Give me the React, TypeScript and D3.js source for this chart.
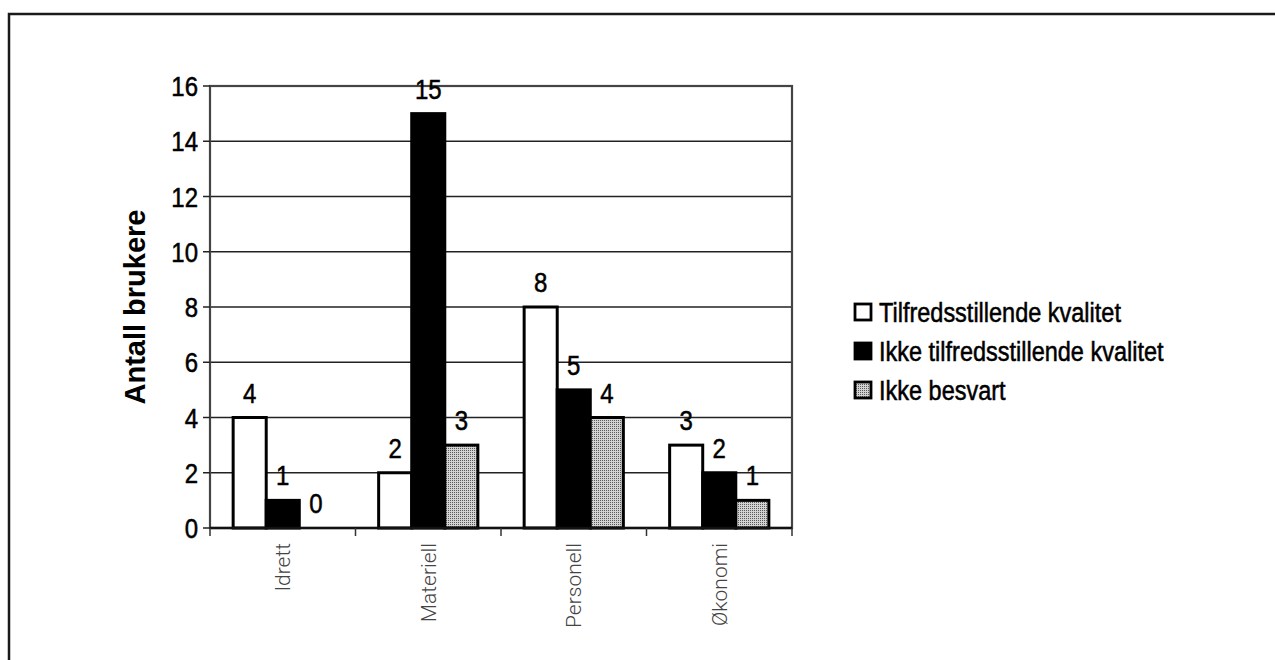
import React, { useEffect, useMemo } from "react";
import { scaleBand, scaleLinear } from "d3";

const categories = ["Idrett", "Materiell", "Personell", "Økonomi"];
const seriesNames = [
  "Tilfredsstillende kvalitet",
  "Ikke tilfredsstillende kvalitet",
  "Ikke besvart",
];
const tilfredsValues = [4, 2, 8, 3];
const ikkeTilfredsValues = [1, 15, 5, 2];
const ikkeBesvartValues = [0, 3, 4, 1];
const yTickValues = [0, 2, 4, 6, 8, 10, 12, 14, 16];

const WIDTH = 1275;
const HEIGHT = 660;
const PLOT = { left: 210, right: 792, top: 86, bottom: 528 };
const FONT = "'Liberation Sans', Arial, Helvetica, sans-serif";

const fills = ["#ffffff", "#000000", "url(#grayDots)"];

// the scanned original is a bit stretched vertically and inked heavier,
// so text gets a y-scale and a hairline stroke
function TallText({
  x,
  y,
  sy,
  anchor = "start",
  size,
  children,
}: {
  x: number;
  y: number;
  sy: number;
  anchor?: "start" | "middle" | "end";
  size: number;
  children: React.ReactNode;
}) {
  return (
    <text
      transform={`translate(${x},${y}) scale(1,${sy})`}
      textAnchor={anchor}
      fontFamily={FONT}
      fontSize={size}
      fill="#000"
      stroke="#000"
      strokeWidth={0.45}
    >
      {children}
    </text>
  );
}

export default function App() {
  useEffect(() => {
    document.body.style.margin = "0";
  }, []);

  const series = [tilfredsValues, ikkeTilfredsValues, ikkeBesvartValues];

  const { xScale, xInner, yScale } = useMemo(() => {
    const xScale = scaleBand<string>()
      .domain(categories)
      .range([PLOT.left, PLOT.right])
      .paddingInner(0)
      .paddingOuter(0);
    const xInner = scaleBand<string>()
      .domain(seriesNames)
      .range([0, xScale.bandwidth()])
      .paddingInner(0)
      .paddingOuter(0.7);
    const yScale = scaleLinear().domain([0, 16]).range([PLOT.bottom, PLOT.top]);
    return { xScale, xInner, yScale };
  }, []);

  // category boundaries for the x tick marks
  const xBoundaries = [
    ...categories.map((c) => xScale(c) as number),
    PLOT.right,
  ];

  return (
    <svg width={WIDTH} height={HEIGHT} style={{ display: "block", background: "#fff" }}>
      <defs>
        <pattern id="grayDots" width={2} height={2} patternUnits="userSpaceOnUse">
          <rect width={2} height={2} fill="#d2d2d2" />
          <rect width={1} height={1} fill="#5a5a5a" />
        </pattern>
      </defs>

      {/* outer frame, right and bottom run off the page */}
      <path d={`M9,${HEIGHT + 10} V14 H${WIDTH + 10}`} fill="none" stroke="#1a1a1a" strokeWidth={2.5} />

      {/* gridlines */}
      {yTickValues
        .filter((v) => v > 0 && v < 16)
        .map((v) => (
          <line
            key={`g${v}`}
            x1={PLOT.left}
            x2={PLOT.right}
            y1={yScale(v)}
            y2={yScale(v)}
            stroke="#222"
            strokeWidth={1.3}
          />
        ))}

      {/* plot area border */}
      <rect
        x={PLOT.left}
        y={PLOT.top}
        width={PLOT.right - PLOT.left}
        height={PLOT.bottom - PLOT.top}
        fill="none"
        stroke="#444"
        strokeWidth={2.2}
      />

      {/* bars */}
      {series.map((vals, si) =>
        vals.map((v, ci) => {
          const x = (xScale(categories[ci]) as number) + (xInner(seriesNames[si]) as number);
          const y = yScale(v);
          if (v === 0) return null;
          return (
            <rect
              key={`b${si}-${ci}`}
              x={x}
              y={y}
              width={xInner.bandwidth()}
              height={yScale(0) - y}
              fill={fills[si]}
              stroke="#000"
              strokeWidth={3}
            />
          );
        })
      )}

      {/* value labels */}
      {series.map((vals, si) =>
        vals.map((v, ci) => {
          const x =
            (xScale(categories[ci]) as number) +
            (xInner(seriesNames[si]) as number) +
            xInner.bandwidth() / 2;
          return (
            <TallText key={`l${si}-${ci}`} x={x} y={yScale(v) - 15} sy={1.17} anchor="middle" size={24}>
              {v}
            </TallText>
          );
        })
      )}

      {/* x axis line and ticks */}
      <line x1={PLOT.left} x2={PLOT.right} y1={PLOT.bottom} y2={PLOT.bottom} stroke="#111" strokeWidth={2.6} />
      {xBoundaries.map((bx, i) => (
        <line key={`xt${i}`} x1={bx} x2={bx} y1={PLOT.bottom} y2={PLOT.bottom + 8} stroke="#333" strokeWidth={1.5} />
      ))}

      {/* y axis ticks and labels */}
      {yTickValues.map((v) => (
        <g key={`yt${v}`}>
          <line x1={PLOT.left - 7} x2={PLOT.left} y1={yScale(v)} y2={yScale(v)} stroke="#222" strokeWidth={1.5} />
          <TallText x={PLOT.left - 12} y={yScale(v) + 10} sy={1.12} anchor="end" size={24}>
            {v}
          </TallText>
        </g>
      ))}

      {/* category labels */}
      {categories.map((c) => {
        const cx = (xScale(c) as number) + xScale.bandwidth() / 2;
        return (
          <text
            key={`c${c}`}
            transform={`translate(${cx},543) rotate(-90)`}
            textAnchor="end"
            dy="0.35em"
            fontFamily="Roboto, 'Liberation Sans', sans-serif"
            fontWeight={300}
            fontSize={21}
            fill="#444"
          >
            {c}
          </text>
        );
      })}

      {/* y axis title */}
      <text
        transform={`translate(135,${(PLOT.top + PLOT.bottom) / 2}) rotate(-90)`}
        textAnchor="middle"
        dy="0.35em"
        fontFamily={FONT}
        fontWeight="bold"
        fontSize={29}
        fill="#000"
      >
        Antall brukere
      </text>

      {/* legend */}
      {seriesNames.map((name, i) => {
        const cy = 312 + i * 39;
        return (
          <g key={`lg${i}`}>
            <rect x={855} y={cy - 8} width={16} height={16} fill={fills[i]} stroke="#000" strokeWidth={2.8} />
            <TallText x={879} y={cy + 10} sy={1.19} size={23.5}>
              {name}
            </TallText>
          </g>
        );
      })}
    </svg>
  );
}
